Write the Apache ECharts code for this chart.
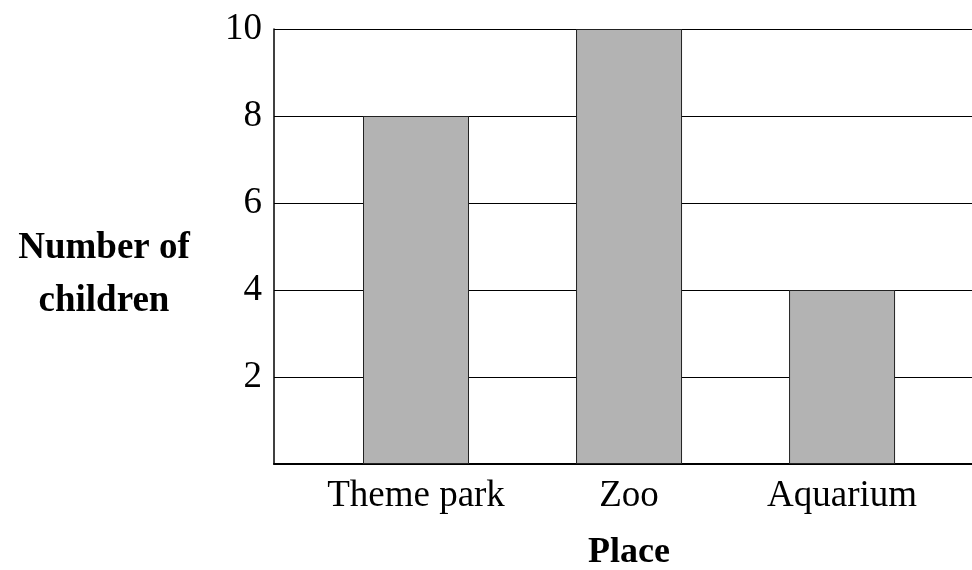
<!DOCTYPE html>
<html>
<head>
<meta charset="utf-8">
<script src="https://cdn.jsdelivr.net/npm/echarts@6/dist/echarts.min.js"></script>
<style>
  html, body { margin: 0; padding: 0; background: #fff; }
  #chart { width: 972px; height: 570px; }
</style>
</head>
<body>
<div id="chart"></div>
<script>
const places = ['Theme park', 'Zoo', 'Aquarium'];
const children = [8, 10, 4];
const yTicks = [0, 2, 4, 6, 8, 10];

const FONT = '"Liberation Serif", "DejaVu Serif", serif';

const chart = echarts.init(document.getElementById('chart'), null, { renderer: 'canvas' });

chart.setOption({
  animation: false,
  grid: { left: 274, right: 0, top: 29, bottom: 106, outerBoundsMode: 'none', containLabel: false },
  xAxis: {
    type: 'value',
    min: 1 / 3,
    max: 3.61,
    name: 'Place',
    nameLocation: 'middle',
    nameGap: 71,
    nameTextStyle: { fontFamily: FONT, fontSize: 36, fontWeight: 'bold', color: '#000', padding: [0, 0, 0, 12] },
    axisLine: { show: true, lineStyle: { color: '#000', width: 2 } },
    axisTick: { show: false },
    splitLine: { show: false },
    axisLabel: {
      customValues: [1, 2, 3],
      formatter: (v) => places[Math.round(v) - 1] || '',
      fontFamily: FONT,
      fontSize: 37,
      color: '#000',
      margin: 14
    }
  },
  yAxis: {
    type: 'value',
    min: yTicks[0],
    max: yTicks[yTicks.length - 1],
    interval: 2,
    axisLine: { show: true, lineStyle: { color: '#000', width: 1.5 } },
    axisTick: { show: false },
    splitLine: { show: true, lineStyle: { color: '#000', width: 1 } },
    axisLabel: {
      formatter: (v) => (v === 0 ? '' : String(v)),
      fontFamily: FONT,
      fontSize: 37,
      color: '#000',
      margin: 12
    }
  },
  graphic: [{
    type: 'text',
    x: 104,
    y: 222,
    style: {
      text: 'Number of\nchildren',
      fontFamily: FONT,
      fontSize: 37,
      fontWeight: 'bold',
      fill: '#000',
      align: 'center',
      verticalAlign: 'top',
      lineHeight: 53
    }
  }],
  series: [{
    type: 'bar',
    barWidth: 106,
    data: children.map((v, i) => [i + 1, v]),
    itemStyle: { color: '#b3b3b3', borderColor: '#222', borderWidth: 1 }
  }]
});
</script>
</body>
</html>
